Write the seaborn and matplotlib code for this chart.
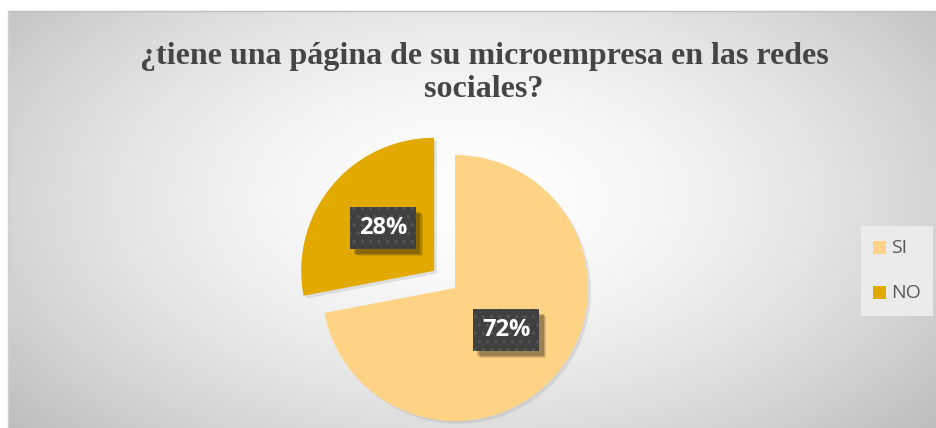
import numpy as np
import matplotlib
matplotlib.use("Agg")
import matplotlib.pyplot as plt
import matplotlib.patheffects as pe
from matplotlib.patches import Rectangle
import seaborn as sns

# Survey answers
categories = ["SI", "NO"]
shares = [72, 28]
title = "¿tiene una página de su microempresa en las redes\nsociales?"

sns.set_style("white")
plt.rcParams["font.family"] = ["Open Sans", "DejaVu Sans"]
plt.rcParams["hatch.linewidth"] = 1.3

colors = ["#FFD385", "#E2AA00"]

W, H = 936, 428
fig = plt.figure(figsize=(W / 100, H / 100), dpi=100)
fig.patch.set_facecolor("white")

# Canvas axes in pixel units (y upward)
ax = fig.add_axes([0, 0, 1, 1])
ax.set_xlim(0, W)
ax.set_ylim(0, H)
ax.axis("off")

# Radial grey-to-white backdrop of the chart area
x0, x1, y0, y1 = 8, W, 0, H - 11
gx = np.linspace(x0, x1, 400)
gy = np.linspace(y0, y1, 200)
XX, YY = np.meshgrid(gx, gy)
cx, cy = 470, 230
r = np.sqrt(((XX - cx) / 520) ** 2 + ((YY - cy) / 300) ** 2)
val = 1.0 - 0.20 * np.clip(r, 0, 1.2) ** 1.6
img = np.dstack([val, val, val])
ax.imshow(img, extent=(x0, x1, y0, y1), origin="lower", aspect="auto", zorder=0,
          interpolation="bilinear")
ax.plot([x0, x1], [y1, y1], color="#bfbfbf", lw=1, zorder=1)
ax.plot([x0, x0], [y0, y1], color="#d0d0d0", lw=1, zorder=1)

# Pie, SI starting at 12 o'clock going clockwise, NO pulled out
center = (455, H - 288)
radius = 133
wedges, texts, autotexts = ax.pie(
    shares, colors=colors, startangle=90, counterclock=False,
    center=center, radius=radius, explode=[0, 27], frame=True,
    autopct="%d%%", pctdistance=0.5,
    wedgeprops=dict(linewidth=0),
    textprops=dict(color="white", fontsize=17, fontweight="bold"),
)
for w in wedges:
    w.set_zorder(2)
    w.set_path_effects([pe.SimplePatchShadow(offset=(2, -2), shadow_rgbFace="#9a9a9a", alpha=0.25),
                        pe.Normal()])

box_style = "square,pad=0.38"
for t in autotexts:
    x, y = t.get_position()
    # soft drop shadow behind the label box
    for k, a in ((5, 0.10), (4, 0.15), (3, 0.2)):
        sh = ax.text(x, y, t.get_text(), ha="center", va="center",
                     fontsize=17, fontweight="bold", color="none", zorder=4)
        sh.set_bbox(dict(boxstyle=box_style, facecolor="#404040", linewidth=0))
        sh.get_bbox_patch().set_path_effects([
            pe.SimplePatchShadow(offset=(k, -k), shadow_rgbFace="black", alpha=a)])
    # dotted dark label box
    t.set_zorder(5)
    t.set_bbox(dict(boxstyle=box_style, facecolor="#404040",
                    edgecolor="#535353", linewidth=0, hatch=".."))

ax.set_xlim(0, W)
ax.set_ylim(0, H)
ax.set_aspect("auto")

# Title
ax.text(484, H - 73, title, ha="center", va="center", fontsize=23,
        fontweight="bold", family=["Liberation Serif", "DejaVu Serif"],
        color="#454545", linespacing=1.15, zorder=6)

# Legend
ax.add_patch(Rectangle((861, H - 316), 72, 90, facecolor="#ebebeb",
                       edgecolor="none", zorder=3))
for i, (lab, col) in enumerate(zip(categories, colors)):
    yy = H - (248 + 45 * i)
    ax.add_patch(Rectangle((873, yy - 6), 13, 13, facecolor=col,
                           edgecolor="none", zorder=4))
    ax.text(891, yy, lab, ha="left", va="center", fontsize=14,
            color="#595959", zorder=4)

fig.savefig("out.png", dpi=100)
